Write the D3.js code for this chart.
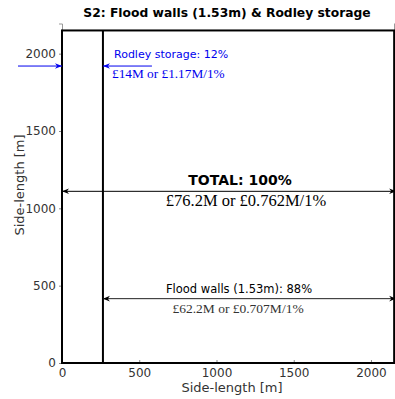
<!DOCTYPE html>
<html><head><meta charset="utf-8">
<script src="https://cdn.jsdelivr.net/npm/d3@7"></script>
<style>body{margin:0;background:#fff}svg{display:block}</style>
</head><body>
<svg id="c" width="395" height="399"></svg>
<script>
const title = "S2: Flood walls (1.53m) & Rodley storage";
const xTicks = [0, 500, 1000, 1500, 2000];
const yTicks = [0, 500, 1000, 1500, 2000];
const boxSide = 2150;          // total side length [m]
const dividerX = 265;          // Rodley storage / flood walls boundary [m]
const arrowLabels = ["TOTAL: 100%", "Flood walls (1.53m): 88%", "Rodley storage: 12%"];
const arrowCosts = ["£76.2M or £0.762M/1%", "£62.2M or £0.707M/1%", "£14M or £1.17M/1%"];
const arrowY = [1110, 416, 1920];
const arrowX0 = [0, dividerX, 0];
const arrowX1 = [boxSide, boxSide, dividerX];

const svg = d3.select("#c");
const x = d3.scaleLinear().domain([0, 2160]).range([62, 395.7]);
const y = d3.scaleLinear().domain([0, 2195]).range([363, 23.5]);

const defs = svg.append("defs");
function marker(id, color){
  defs.append("marker").attr("id", id).attr("viewBox","0 0 10 10").attr("refX",10).attr("refY",5)
    .attr("markerWidth",7).attr("markerHeight",7).attr("markerUnits","userSpaceOnUse").attr("orient","auto-start-reverse")
    .append("path").attr("d","M0,1 L10,5 L0,9 L3,5 Z").attr("fill",color);
}
marker("ak","#000"); marker("ab","#0000ee");

const sans = "'DejaVu Sans',sans-serif";
const serif = "'Liberation Serif','DejaVu Serif',serif";

// axes
const gx = svg.append("g").attr("transform","translate(0,363)")
  .call(d3.axisBottom(x).tickValues(xTicks).tickFormat(d3.format("d")).tickSize(-3).tickPadding(5));
const gy = svg.append("g").attr("transform","translate(62,0)")
  .call(d3.axisLeft(y).tickValues(yTicks).tickFormat(d3.format("d")).tickSize(3).tickPadding(3));
[gx, gy].forEach(g => {
  g.select(".domain").attr("stroke","#999");
  g.selectAll(".tick line").attr("stroke","#888");
  g.selectAll(".tick text").attr("fill","#333").style("font-family",sans).style("font-size","12px");
});
gx.selectAll(".tick line").attr("y2",-3);
gy.selectAll(".tick line").attr("x2",-3);
svg.append("line").attr("x1",394.5).attr("x2",394.5).attr("y1",y(2195)).attr("y2",363).attr("stroke","#999");

// box and divider
svg.append("rect").attr("x",x(0)).attr("y",y(boxSide)).attr("width",x(boxSide)-x(0)).attr("height",y(0)-y(boxSide))
  .attr("fill","none").attr("stroke","#000").attr("stroke-width",2);
svg.append("line").attr("x1",x(dividerX)).attr("x2",x(dividerX)).attr("y1",y(0)).attr("y2",y(boxSide))
  .attr("stroke","#000").attr("stroke-width",2);

// total arrow
svg.append("line").attr("x1",x(arrowX0[0])).attr("x2",x(arrowX1[0])+2).attr("y1",y(arrowY[0])).attr("y2",y(arrowY[0]))
  .attr("stroke","#000").attr("stroke-width",1).attr("marker-start","url(#ak)").attr("marker-end","url(#ak)");
svg.append("text").attr("x",240).attr("y",y(arrowY[0])-6).attr("text-anchor","middle")
  .style("font-family",sans).style("font-weight","bold").style("font-size","14px").text(arrowLabels[0]);
svg.append("text").attr("x",246).attr("y",y(arrowY[0])+15).attr("text-anchor","middle")
  .style("font-family",serif).style("font-size","16.5px").text(arrowCosts[0]);

// flood walls arrow
svg.append("line").attr("x1",x(arrowX0[1])).attr("x2",x(arrowX1[1])+2).attr("y1",y(arrowY[1])).attr("y2",y(arrowY[1]))
  .attr("stroke","#222").attr("stroke-width",1).attr("marker-start","url(#ak)").attr("marker-end","url(#ak)");
svg.append("text").attr("x",239).attr("y",y(arrowY[1])-6).attr("text-anchor","middle")
  .style("font-family",sans).style("font-size","11.5px").text(arrowLabels[1]);
svg.append("text").attr("x",238).attr("y",y(arrowY[1])+14).attr("text-anchor","middle").attr("fill","#333")
  .style("font-family",serif).style("font-size","13.5px").text(arrowCosts[1]);

// Rodley arrows
svg.append("line").attr("x1",x(dividerX)+49).attr("x2",x(dividerX)).attr("y1",y(arrowY[2])).attr("y2",y(arrowY[2]))
  .attr("stroke","#0000ee").attr("stroke-width",1).attr("marker-end","url(#ab)");
svg.append("line").attr("x1",18).attr("x2",x(arrowX0[2])).attr("y1",y(arrowY[2])).attr("y2",y(arrowY[2]))
  .attr("stroke","#0000ee").attr("stroke-width",1).attr("marker-end","url(#ab)");
svg.append("text").attr("x",114).attr("y",y(arrowY[2])-8).attr("fill","#0000ee")
  .style("font-family",sans).style("font-size","11px").text(arrowLabels[2]);
svg.append("text").attr("x",112).attr("y",y(arrowY[2])+12).attr("fill","#0000ee")
  .style("font-family",serif).style("font-size","13.3px").text(arrowCosts[2]);

// title and axis labels
svg.append("text").attr("x",227).attr("y",17).attr("text-anchor","middle")
  .style("font-family",sans).style("font-weight","bold").style("font-size","12.3px").text(title);
svg.append("text").attr("x",232).attr("y",392).attr("text-anchor","middle").attr("fill","#333")
  .style("font-family",sans).style("font-size","13px").text("Side-length [m]");
svg.append("text").attr("transform","translate(24,185) rotate(-90)").attr("text-anchor","middle").attr("fill","#333")
  .style("font-family",sans).style("font-size","13px").text("Side-length [m]");
</script>
</body></html>
